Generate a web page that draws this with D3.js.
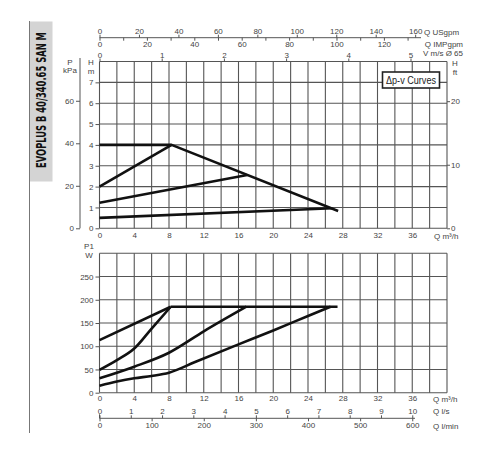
<!DOCTYPE html>
<html>
<head>
<meta charset="utf-8">
<script src="https://cdn.jsdelivr.net/npm/d3@7"></script>
<style>
  body { margin: 0; background: #fff; }
  text { font-family: "Liberation Sans", Arial, sans-serif; font-size: 8px; fill: #444; }
  .grid line { stroke: #555; stroke-width: 1.1; }
  .curve { fill: none; stroke: #111; stroke-width: 2.6; stroke-linejoin: round; }
  .ax { stroke: #555; stroke-width: 1; }
</style>
</head>
<body>
<div id="chart"></div>
<script>
// flow ticks, m3/h
var qTicks = [0, 4, 8, 12, 16, 20, 24, 28, 32, 36];
var qGrid = d3.range(0, 41, 2);

// head axes
var hTicks = [0, 1, 2, 3, 4, 5, 6, 7];
var kpaTicks = [0, 20, 40, 60];
var ftTicks = [0, 10, 20];

// power axis
var wTicks = [0, 50, 100, 150, 200, 250];

// extra flow scales
var usgpmTicks = [0, 20, 40, 60, 80, 100, 120, 140, 160];
var impgpmTicks = [0, 20, 40, 60, 80, 100, 120];
var velTicks = [0, 1, 2, 3, 4, 5];
var lsTicks = [0, 1, 2, 3, 4, 5, 6, 7, 8, 9, 10];
var lminTicks = [0, 100, 200, 300, 400, 500, 600];

// dp-v head curves [Q m3/h, H m]
var headMax = [[0, 4], [8.3, 4], [27.47, 0.83]];
var headProp1 = [[0, 2], [8.3, 4]];
var headProp2 = [[0, 1.23], [17, 2.56]];
var headMin = [[0, 0.5], [26.8, 0.96]];

// power curves [Q m3/h, P1 W]
var powerMax = [[8.2, 185], [27.4, 185]];
var power1 = [[0, 113], [8.2, 185]];
var power2 = [[0, 49], [2, 70], [4, 95], [6, 138], [8.2, 185]];
var power3 = [[0, 31], [4, 56], [8, 86], [12, 132], [16.9, 185]];
var power4 = [[0, 15], [2, 24], [4, 31], [6, 36], [8, 43], [11, 66], [16, 104], [20, 134], [24, 165], [26.6, 185]];

var svg = d3.select("#chart").append("svg")
    .attr("width", 500)
    .attr("height", 450);

var x = d3.scaleLinear().domain([0, 40]).range([99.5, 447]);
var yH = d3.scaleLinear().domain([0, 8]).range([228.3, 61.5]);
var yKpa = d3.scaleLinear().domain([0, 8 * 9.81]).range([228.3, 61.5]);
var yFt = d3.scaleLinear().domain([0, 8 * 3.2808]).range([228.3, 61.5]);
var yW = d3.scaleLinear().domain([0, 300]).range([392.7, 253.3]);

var xUs = d3.scaleLinear().domain([0, 40 / 0.2271]).range(x.range());
var xImp = d3.scaleLinear().domain([0, 40 / 0.2728]).range(x.range());
var xVel = d3.scaleLinear().domain([0, 40 / 7.16]).range(x.range());
var xLs = d3.scaleLinear().domain([0, 40 / 3.6]).range(x.range());
var xLmin = d3.scaleLinear().domain([0, 40 / 0.06]).range(x.range());

var fmt = d3.format("d");

// title block
svg.append("line").attr("class", "ax")
    .attr("x1", 29.5).attr("x2", 29.5).attr("y1", 21).attr("y2", 433)
    .style("stroke", "#777");
svg.append("rect")
    .attr("x", 30).attr("y", 21.5).attr("width", 22.5).attr("height", 160)
    .style("fill", "#d4d4d4");
var title = svg.append("text")
    .style("font-family", "'DejaVu Sans Condensed', 'DejaVu Sans', sans-serif")
    .style("font-weight", "bold").style("font-size", "9.5px").style("fill", "#111")
    .text("EVOPLUS B 40/340.65 SAN M");
var tLen = title.node().getComputedTextLength();
title.attr("transform", "translate(46,168) rotate(-90) scale(" + (136 / tLen) + ",1.4)");

function drawGrid(yScale, yVals) {
    var g = svg.append("g").attr("class", "grid");
    g.selectAll("line.v").data(qGrid).enter().append("line")
        .attr("x1", function(d) { return x(d); })
        .attr("x2", function(d) { return x(d); })
        .attr("y1", yScale.range()[0])
        .attr("y2", yScale.range()[1]);
    g.selectAll("line.h").data(yVals).enter().append("line")
        .attr("x1", x.range()[0])
        .attr("x2", x.range()[1])
        .attr("y1", function(d) { return yScale(d); })
        .attr("y2", function(d) { return yScale(d); });
}

function tidy(g) {
    g.select(".domain").attr("stroke", "#555");
    g.selectAll(".tick line").attr("stroke", "#555");
    g.selectAll("text").attr("fill", "#444").style("font-size", "8px")
        .style("font-family", "'Liberation Sans', Arial, sans-serif");
}

var line = d3.line()
    .x(function(d) { return x(d[0]); });

// ---- head chart ----
drawGrid(yH, d3.range(0, 9, 1));

svg.append("g")
    .attr("transform", "translate(" + x(0) + ",0)")
    .call(d3.axisLeft(yH).tickValues(hTicks).tickSize(4).tickPadding(2).tickFormat(fmt))
    .call(tidy)
    .call(function(g) { g.select(".domain").remove(); });

svg.append("g")
    .attr("transform", "translate(80,0)")
    .call(d3.axisLeft(yKpa).tickValues(kpaTicks).tickSize(4).tickPadding(2).tickSizeOuter(0).tickFormat(fmt))
    .call(tidy)
    .call(function(g) { g.select(".domain").attr("d", "M0,58V" + yKpa(0)); });

svg.append("g")
    .attr("transform", "translate(" + x(40) + ",0)")
    .call(d3.axisRight(yFt).tickValues(ftTicks).tickSize(3).tickPadding(1).tickFormat(fmt))
    .call(tidy)
    .call(function(g) { g.select(".domain").remove(); });

svg.append("g")
    .attr("transform", "translate(0," + yH(0) + ")")
    .call(d3.axisBottom(x).tickValues(qTicks).tickSize(0).tickPadding(4).tickFormat(fmt))
    .call(tidy)
    .call(function(g) { g.select(".domain").remove(); });

// top flow scales
svg.append("g")
    .attr("transform", "translate(0,37.7)")
    .call(d3.axisTop(xUs).tickValues(usgpmTicks).tickSize(3).tickPadding(1).tickSizeOuter(0).tickFormat(fmt))
    .call(tidy)
    .call(function(g) { g.select(".domain").attr("d", "M" + x(0) + ",0H421"); });

svg.append("g")
    .attr("transform", "translate(0,37.7)")
    .call(d3.axisBottom(xImp).tickValues(d3.range(0, 131, 10)).tickSize(3).tickPadding(1)
        .tickFormat(function(d) { return impgpmTicks.indexOf(d) >= 0 ? fmt(d) : ""; }))
    .call(tidy)
    .call(function(g) { g.select(".domain").remove(); });

svg.append("g")
    .attr("transform", "translate(0," + yH(8) + ")")
    .call(d3.axisTop(xVel).tickValues(velTicks).tickSize(3).tickPadding(1).tickFormat(fmt))
    .call(tidy)
    .call(function(g) { g.select(".domain").remove(); });

svg.selectAll("text.unitTop")
    .data([["Q USgpm", 424, 35, "start"], ["Q IMPgpm", 463, 47, "end"], ["V m/s \u00d8 65", 463, 56, "end"]])
    .enter().append("text")
    .attr("x", function(d) { return d[1]; })
    .attr("y", function(d) { return d[2]; })
    .attr("text-anchor", function(d) { return d[3]; })
    .text(function(d) { return d[0]; });

svg.selectAll("text.unitLeft")
    .data([["P", 70, 65], ["kPa", 70, 73], ["H", 91, 65], ["m", 91, 74], ["H", 455, 66], ["ft", 455, 75],
           ["P1", 89, 249], ["W", 89, 257.5]])
    .enter().append("text")
    .attr("x", function(d) { return d[1]; })
    .attr("y", function(d) { return d[2]; })
    .attr("text-anchor", "middle")
    .text(function(d) { return d[0]; });

svg.append("text").attr("x", 434).attr("y", 239).text("Q m\u00b3/h");

// dp-v box
svg.append("rect")
    .attr("x", 382.5).attr("y", 72).attr("width", 57).attr("height", 16)
    .style("fill", "#fff").style("stroke", "#222").style("stroke-width", 1.6);
svg.append("text")
    .attr("x", 411).attr("y", 83.5).attr("text-anchor", "middle")
    .attr("textLength", 50).attr("lengthAdjust", "spacingAndGlyphs")
    .style("font-size", "10px").style("fill", "#222")
    .text("\u0394p-v Curves");

line.y(function(d) { return yH(d[1]); });
[headMax, headProp1, headProp2, headMin].forEach(function(c) {
    svg.append("path").attr("class", "curve").attr("d", line(c));
});

// ---- power chart ----
drawGrid(yW, d3.range(0, 301, 50));

svg.append("g")
    .attr("transform", "translate(" + x(0) + ",0)")
    .call(d3.axisLeft(yW).tickValues(wTicks).tickSize(4).tickPadding(2).tickFormat(fmt))
    .call(tidy)
    .call(function(g) { g.select(".domain").remove(); });

svg.append("g")
    .attr("transform", "translate(0," + yW(0) + ")")
    .call(d3.axisBottom(x).tickValues(qTicks).tickSize(0).tickPadding(3).tickFormat(fmt))
    .call(tidy)
    .call(function(g) { g.select(".domain").remove(); });

svg.append("g")
    .attr("transform", "translate(0,418.3)")
    .call(d3.axisTop(xLs).tickValues(lsTicks).tickSize(3).tickPadding(1).tickSizeOuter(0).tickFormat(fmt))
    .call(tidy)
    .call(function(g) { g.select(".domain").attr("d", "M" + x(0) + ",-4V0H415"); });

svg.append("g")
    .attr("transform", "translate(0,418.3)")
    .call(d3.axisBottom(xLmin).tickValues(lminTicks).tickSize(3).tickPadding(1).tickFormat(fmt))
    .call(tidy)
    .call(function(g) { g.select(".domain").remove(); });

svg.selectAll("text.unitBot")
    .data([["Q m\u00b3/h", 402], ["Q l/s", 414], ["Q l/min", 429]])
    .enter().append("text")
    .attr("x", 433)
    .attr("y", function(d) { return d[1]; })
    .text(function(d) { return d[0]; });

var curveLine = d3.line()
    .x(function(d) { return x(d[0]); })
    .y(function(d) { return yW(d[1]); })
    .curve(d3.curveMonotoneX);

[powerMax, power1, power2, power3, power4].forEach(function(c) {
    svg.append("path").attr("class", "curve").attr("d", curveLine(c));
});
</script>
</body>
</html>
